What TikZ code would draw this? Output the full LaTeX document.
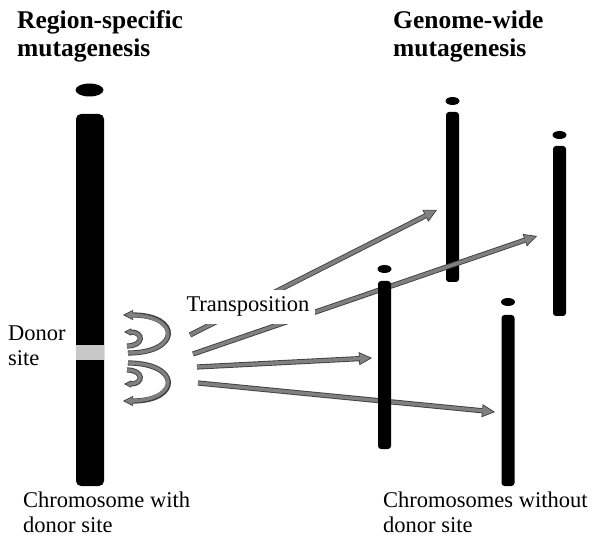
\documentclass[tikz,border=0pt]{standalone}
\usepackage{fontspec}
\setmainfont{Liberation Serif}
\usetikzlibrary{shapes.geometric, arrows.meta}
\definecolor{hopfill}{RGB}{128,128,128}
\definecolor{hopline}{RGB}{64,64,64}
\definecolor{sitecolor}{RGB}{200,200,200}

% one grey transposition arrow: dark rim first, grey core on top
\newcommand{\hoppath}[2][13pt]{%
  \draw[hopedge, -{Triangle[length=#1, width=#1, fill=hopfill, line width=0.7pt]}] #2;
  \draw[hopcore] #2;}

\begin{document}
\begin{tikzpicture}[
    x=1pt, y=-1pt,
    bar/.style={fill=black, rounded corners=3pt, minimum width=13pt, inner sep=0pt},
    knob/.style={ellipse, fill=black, minimum width=14pt, minimum height=8pt, inner sep=0pt},
    site/.style={fill=sitecolor, minimum width=28pt, minimum height=15pt, inner sep=0pt},
    heading/.style={font=\fontsize{25.5}{28}\selectfont\bfseries, align=left, anchor=base west, inner sep=0pt},
    txt/.style={font=\fontsize{22.5}{25}\selectfont, align=left, anchor=base west, inner sep=0pt},
    hopedge/.style={draw=hopline, line width=5.2pt},
    hopcore/.style={draw=hopfill, line width=3.4pt, shorten >=6pt}
]
    \useasboundingbox (0,0) rectangle (600,545);

    % Target chromosomes (C comes later, it lies over the arrows)
    \node[knob] (knobA) at (452.5,101) {};
    \node[bar, minimum height=170pt] (chrA) at (452.5,197) {};
    \node[knob] (knobB) at (559.5,135) {};
    \node[bar, minimum height=170pt] (chrB) at (559.5,231) {};
    \node[knob] (knobD) at (508,302) {};
    \node[bar, minimum height=171pt] (chrD) at (508,400.5) {};

    % Chromosome with donor site
    \node[knob, minimum width=28pt, minimum height=13pt] (donorknob) at (89.5,90) {};
    \node[bar, minimum width=28pt, minimum height=372pt, rounded corners=5pt] (donor) at (90,300) {};
    \node[site] (site) at (90,353) {};

    % Local hops
    \hoppath[10pt]{(128,353) .. controls (181,353) and (181,315) .. (123,315)}
    \hoppath[7pt]{(127,346) .. controls (144,346) and (144,332) .. (124,332)}
    \hoppath[7pt]{(127,370) .. controls (144,370) and (144,384) .. (124,384)}
    \hoppath[10pt]{(128,363) .. controls (181,363) and (181,401) .. (123,401)}

    % Jumps to other chromosomes
    \coordinate (fromA) at (190,335);
    \coordinate (toA) at (437,210);
    \coordinate (fromB) at (193,354);
    \coordinate (toB) at (537,236);
    \coordinate (fromC) at (197,367);
    \coordinate (toC) at (372,358);
    \coordinate (fromD) at (198,383);
    \coordinate (toD) at (495,412);
    \hoppath{(fromA) -- (toA)}
    \hoppath{(fromB) -- (toB)}
    \hoppath{(fromC) -- (toC)}
    \hoppath{(fromD) -- (toD)}

    \node[knob] (knobC) at (384.5,269) {};
    \node[bar, minimum height=168pt] (chrC) at (384.5,365) {};

    \node[font=\fontsize{22.5}{25}\selectfont, fill=white, anchor=base, inner xsep=6pt, inner ysep=7pt] (trans) at (248,312) {Transposition};

    % Labels (anchored at the baseline of their last line)
    \node[heading] (regionhead) at (17,57) {Region-specific\\mutagenesis};
    \node[heading] (genomehead) at (393,57) {Genome-wide\\mutagenesis};
    \node[txt] (donorlbl) at (8,366) {Donor\\site};
    \node[txt] (withlbl) at (23,532) {Chromosome with\\donor site};
    \node[txt] (withoutlbl) at (383,532) {Chromosomes without\\donor site};
\end{tikzpicture}
\end{document}
